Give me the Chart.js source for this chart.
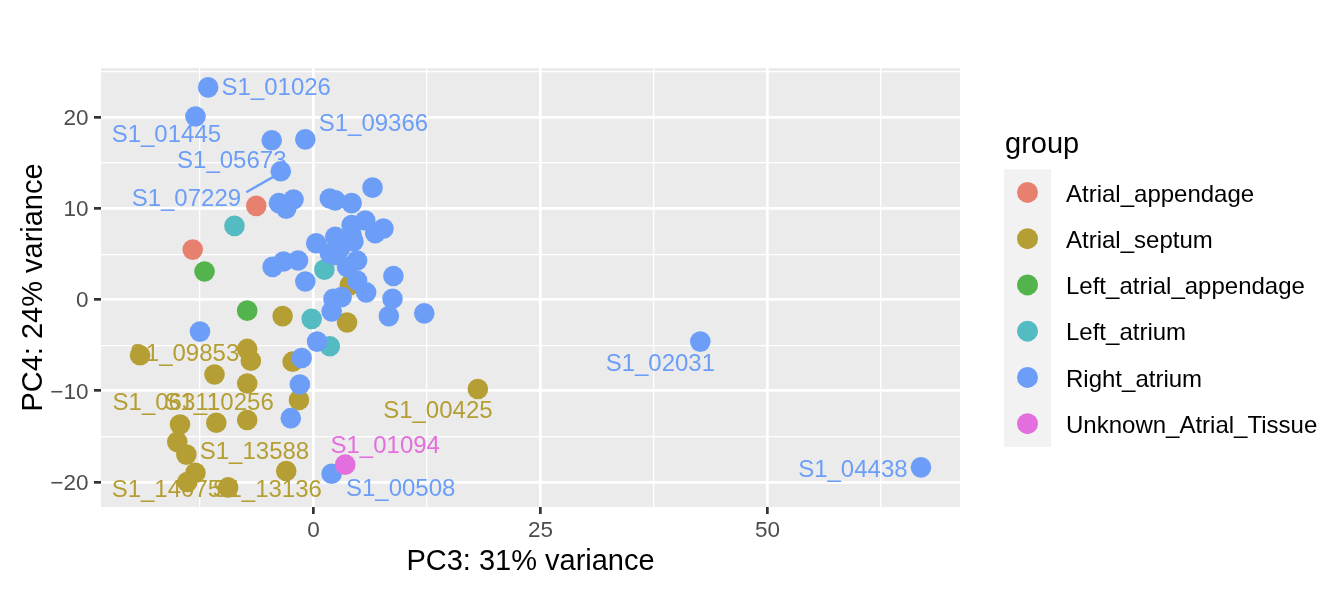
<!DOCTYPE html>
<html>
<head>
<meta charset="utf-8">
<script src="https://cdn.jsdelivr.net/npm/chart.js@4.4.0/dist/chart.umd.min.js"></script>
<style>
  html, body { margin: 0; padding: 0; background: #fff; }
</style>
</head>
<body>
<canvas id="pca" width="1334" height="598"></canvas>
<script>
// groups and colours (legend order)
const groups = ["Atrial_appendage", "Atrial_septum", "Left_atrial_appendage", "Left_atrium", "Right_atrium", "Unknown_Atrial_Tissue"];
const groupColors = ["#E8806F", "#B59E33", "#53B34C", "#55BBC2", "#6C9EF8", "#E36EDD"];

// PC3 / PC4 coordinates per group
const appendageX = [-6.3, -13.3];
const appendageY = [10.3, 5.5];
const septumX = [-3.4, 3.7, 4.0, -19.1, -7.3, -6.9, -2.3, -10.9, -7.3, -1.6, -14.7, -10.7, -7.3, -15.0, -14.0, -13.0, -13.9, -9.4, -3.0, 18.1];
const septumY = [-1.8, -2.5, 1.6, -6.1, -5.4, -6.7, -6.8, -8.2, -9.2, -11.0, -13.7, -13.5, -13.2, -15.6, -17.0, -19.0, -20.0, -20.6, -18.8, -9.8];
const leftAppendageX = [-12.0, -7.3];
const leftAppendageY = [3.1, -1.2];
const leftAtriumX = [-8.7, 1.2, -0.2, 1.8];
const leftAtriumY = [8.1, 3.3, -2.1, -5.1];
const rightAtriumX = [-11.6, -13.0, -4.6, -0.9, -3.6, -3.8, -2.2, -3.0, 1.8, 2.4, 4.2, 6.5, 0.3, 2.4, 4.2, 5.7, 4.2, 6.8, 7.7, 4.4, 4.2, 2.9, 2.4, 4.8, 3.7, 1.8, -4.5, -3.3, -1.7, -0.9, 8.8, 4.8, 5.8, 8.7, 8.3, 12.2, 3.1, 2.2, 2.0, 0.4, -1.3, -12.5, -1.5, -2.5, 2.0, 42.6, 66.9];
const rightAtriumY = [23.3, 20.1, 17.5, 17.6, 14.1, 10.6, 11.0, 10.0, 11.1, 10.9, 10.6, 12.3, 6.2, 6.9, 7.1, 8.7, 8.2, 7.3, 7.8, 6.4, 6.7, 5.6, 4.9, 4.3, 3.6, 5.1, 3.6, 4.2, 4.3, 2.0, 2.6, 2.1, 0.8, 0.1, -1.8, -1.5, 0.3, 0.1, -1.3, -4.6, -6.4, -3.5, -9.3, -13.0, -19.1, -4.6, -18.4];
const unknownX = [3.5];
const unknownY = [-18.1];

// repelled sample labels (label anchor in data units)
const labelText = ["S1_01026", "S1_09366", "S1_01445", "S1_05673", "S1_07229", "S1_09853", "S1_06311", "S1_10256", "S1_00425", "S1_13588", "S1_01094", "S1_14075", "S1_13136", "S1_00508", "S1_02031", "S1_04438"];
const labelGroup = [4, 4, 4, 4, 4, 1, 1, 1, 1, 1, 5, 1, 1, 4, 4, 4];
const labelX = [-4.1, 6.6, -16.2, -9.0, -14.0, -14.2, -16.2, -10.4, 13.7, -6.5, 7.9, -16.2, -5.1, 9.6, 38.2, 59.4];
const labelY = [23.15, 19.25, 18.05, 15.15, 11.05, -5.95, -11.35, -11.35, -12.25, -16.75, -16.05, -20.9, -20.9, -20.85, -7.05, -18.7];
// segment joining S1_07229 to its point
const segmentX = [-7.4, -4.15];
const segmentY = [11.8, 13.65];

// axis ticks
const xMajor = [0, 25, 50];
const xMinor = [-12.5, 12.5, 37.5, 62.5];
const yMajor = [-20, -10, 0, 10, 20];
const yMinor = [-15, -5, 5, 15, 25];

const FONT = "'Liberation Sans', Arial, Helvetica, sans-serif";
Chart.defaults.font.family = FONT;

function pairs(xs, ys) {
    return xs.map((x, i) => ({ x: x, y: ys[i] }));
}

const seriesX = [appendageX, septumX, leftAppendageX, leftAtriumX, rightAtriumX, unknownX];
const seriesY = [appendageY, septumY, leftAppendageY, leftAtriumY, rightAtriumY, unknownY];
const drawOrder = [3, 4, 3, 2, 1, 0];

const datasets = groups.map((g, i) => ({
    label: g,
    data: pairs(seriesX[i], seriesY[i]),
    backgroundColor: groupColors[i],
    borderWidth: 0,
    pointRadius: 10.3,
    pointHoverRadius: 10.3,
    order: drawOrder[i]
}));

function isMajor(list, v) {
    return list.some(m => Math.abs(m - v) < 1e-6);
}
function fmt(v) {
    return v < 0 ? "\u2212" + Math.abs(v) : String(v);
}

const panelBg = {
    id: "panelBg",
    beforeDraw(chart) {
        const { ctx, chartArea: a } = chart;
        ctx.save();
        ctx.fillStyle = "#EBEBEB";
        ctx.fillRect(a.left, a.top, a.right - a.left, a.bottom - a.top);
        ctx.restore();
    }
};

// text labels sit under the points, like the original
const sampleLabels = {
    id: "sampleLabels",
    beforeDatasetsDraw(chart) {
        const { ctx, scales: { x, y } } = chart;
        ctx.save();
        ctx.strokeStyle = groupColors[4];
        ctx.lineWidth = 2.4;
        ctx.beginPath();
        ctx.moveTo(x.getPixelForValue(segmentX[0]), y.getPixelForValue(segmentY[0]));
        ctx.lineTo(x.getPixelForValue(segmentX[1]), y.getPixelForValue(segmentY[1]));
        ctx.stroke();
        ctx.font = "24px " + FONT;
        ctx.textAlign = "center";
        ctx.textBaseline = "middle";
        labelText.forEach((t, i) => {
            ctx.fillStyle = groupColors[labelGroup[i]];
            ctx.fillText(t, x.getPixelForValue(labelX[i]), y.getPixelForValue(labelY[i]));
        });
        ctx.restore();
    }
};

const groupLegend = {
    id: "groupLegend",
    afterDraw(chart) {
        const { ctx, chartArea: a } = chart;
        const left = a.right + 44;
        const top = 169.3;
        const step = 46.25;
        ctx.save();
        ctx.fillStyle = "#000";
        ctx.font = "29px " + FONT;
        ctx.textAlign = "left";
        ctx.textBaseline = "alphabetic";
        ctx.fillText("group", left + 1, 153);
        ctx.fillStyle = "#F2F2F2";
        ctx.fillRect(left, top, 47, step * groups.length);
        ctx.font = "24px " + FONT;
        ctx.textBaseline = "middle";
        groups.forEach((g, i) => {
            const cy = top + step * (i + 0.5);
            ctx.fillStyle = groupColors[i];
            ctx.beginPath();
            ctx.arc(left + 23.5, cy, 10.5, 0, Math.PI * 2);
            ctx.fill();
            ctx.fillStyle = "#000";
            ctx.fillText(g, left + 62, cy + 2.5);
        });
        ctx.restore();
    }
};

new Chart(document.getElementById("pca").getContext("2d"), {
    type: "scatter",
    data: { datasets: datasets },
    plugins: [panelBg, sampleLabels, groupLegend],
    options: {
        responsive: false,
        animation: false,
        layout: { padding: { top: 68, right: 374, bottom: 0, left: 0 } },
        plugins: {
            legend: { display: false },
            tooltip: { enabled: false }
        },
        scales: {
            x: {
                type: "linear",
                min: -23.4,
                max: 71.2,
                afterBuildTicks: s => { s.ticks = xMinor.concat(xMajor).sort((a, b) => a - b).map(v => ({ value: v })); },
                afterFit: s => { s.height = 91; },
                border: { display: false },
                grid: {
                    color: "#FFFFFF",
                    lineWidth: c => isMajor(xMajor, c.tick.value) ? 2.7 : 1.3,
                    tickColor: c => isMajor(xMajor, c.tick.value) ? "#333333" : "rgba(0,0,0,0)",
                    tickWidth: 2.7,
                    tickLength: 7
                },
                ticks: {
                    autoSkip: false,
                    maxRotation: 0,
                    padding: 3,
                    color: "#4D4D4D",
                    font: { size: 22.5 },
                    callback: v => isMajor(xMajor, v) ? fmt(v) : ""
                },
                title: {
                    display: true,
                    text: "PC3: 31% variance",
                    color: "#000",
                    font: { size: 29 },
                    padding: { top: 0, bottom: 18.6 }
                }
            },
            y: {
                type: "linear",
                min: -22.75,
                max: 25.43,
                afterBuildTicks: s => { s.ticks = yMinor.concat(yMajor).sort((a, b) => a - b).map(v => ({ value: v })); },
                afterFit: s => { s.width = 101; },
                border: { display: false },
                grid: {
                    color: "#FFFFFF",
                    lineWidth: c => isMajor(yMajor, c.tick.value) ? 2.7 : 1.3,
                    tickColor: c => isMajor(yMajor, c.tick.value) ? "#333333" : "rgba(0,0,0,0)",
                    tickWidth: 2.7,
                    tickLength: 7
                },
                ticks: {
                    autoSkip: false,
                    padding: 5.5,
                    labelOffset: 1.5,
                    color: "#4D4D4D",
                    font: { size: 22.5 },
                    callback: v => isMajor(yMajor, v) ? fmt(v) : ""
                },
                title: {
                    display: true,
                    text: "PC4: 24% variance",
                    color: "#000",
                    font: { size: 29 },
                    padding: { top: 16.5, bottom: 0 }
                }
            }
        }
    }
});
</script>
</body>
</html>
